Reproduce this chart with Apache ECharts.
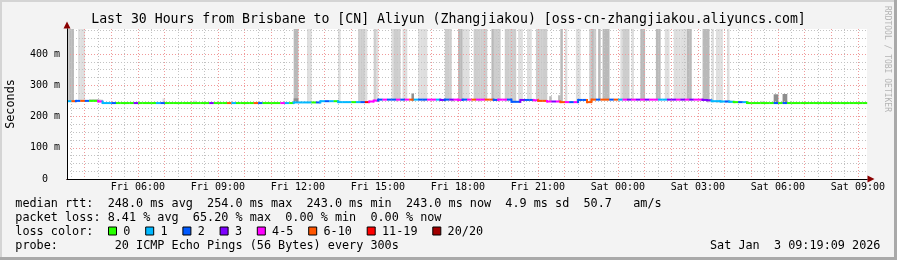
<!DOCTYPE html>
<html><head><meta charset="utf-8">
<script src="https://cdn.jsdelivr.net/npm/echarts@6/dist/echarts.min.js"></script>
<style>html,body{margin:0;padding:0;background:#f3f3f3}#c{width:897px;height:260px}</style>
</head><body><div id="c"></div>
<script>
// ---------------- data ----------------
const TITLE = 'Last 30 Hours from Brisbane to [CN] Aliyun (Zhangjiakou) [oss-cn-zhangjiakou.aliyuncs.com]';
const X_START_H = 3 + 20.5 / 60;          // Fri 03:20:30 (hours since Fri 00:00)
const X_END_H = X_START_H + 30;           // Sat 09:20:30
const STEP_H = 10 / 60;                   // median samples every 10 min
const SMOKE_STEP_H = 5 / 60;              // smoke columns every 5 min
const Y_MAX_MS = 480;

const xTickHours = [6, 9, 12, 15, 18, 21, 24, 27, 30, 33];
const xTickLabels = ['Fri 06:00', 'Fri 09:00', 'Fri 12:00', 'Fri 15:00', 'Fri 18:00',
  'Fri 21:00', 'Sat 00:00', 'Sat 03:00', 'Sat 06:00', 'Sat 09:00'];
const yTickValues = [0, 100, 200, 300, 400];
const yTickLabels = ['0', '100 m', '200 m', '300 m', '400 m'];

// median RTT (ms), one value per 10-minute step
const medianMs = [
  249,249,250,250,250,250,250,248,243,243,
  243,243,243,243,243,243,243,243,243,243,
  243,243,243,243,243,243,243,243,243,243,
  243,243,243,243,243,243,243,243,243,243,
  243,243,243,243,243,243,243,243,243,243,
  243,245,245,245,245,245,245,249,249,249,
  249,246,246,246,246,246,246,246,248,251,
  254,254,254,254,254,254,254,254,254,254,
  254,254,254,254,253,254,254,254,253,254,
  254,254,254,254,254,254,253,254,254,254,
  247,247,253,253,253,252,250,250,248,248,
  248,246,246,246,246,253,253,246,254,254,
  254,254,254,254,254,254,254,254,254,254,
  254,254,254,254,254,254,254,254,254,254,
  254,254,254,253,252,249,249,248,248,247,
  246,246,246,243,243,243,243,243,243,243,
  243,243,243,243,243,243,243,243,243,243,
  243,243,243,243,243,243,243,243,243,243
];
// lost pings (out of 20) per 10-minute step
const lossCount = [
  1,8,2,8,2,0,0,4,1,1,
  2,0,0,0,0,3,0,0,0,0,
  1,2,0,0,0,0,0,0,0,0,
  0,0,3,0,0,0,8,1,0,0,
  0,0,8,2,0,0,0,0,4,1,
  0,1,1,1,1,0,2,1,2,1,
  0,1,1,1,0,1,2,13,4,4,
  2,4,2,2,4,2,4,8,1,2,
  2,4,4,1,3,2,3,4,4,2,
  4,8,4,4,8,8,2,4,4,2,
  2,2,3,2,2,4,8,8,4,3,
  4,8,4,2,4,2,2,8,8,2,
  8,8,2,8,1,4,3,4,3,4,
  3,4,4,1,1,3,3,4,3,4,
  3,4,4,3,3,1,1,1,2,1,
  0,2,1,0,0,0,0,0,0,2,
  0,2,0,0,0,0,0,0,0,0,
  0,0,0,0,0,0,0,0,0,0
];
// smoke columns reaching above the chart top: [5-min step index, shade level]
const smokeTall = [
  [0,2],[1,3],[2,3],[5,1],[6,1],[7,1],
  [102,3],[103,3],[108,1],[109,1],
  [122,1],[131,2],[132,2],[133,2],[134,1],[138,2],[139,1],
  [146,1],[147,2],[148,2],[149,2],[151,1],[152,1],
  [158,1],[159,1],[160,1],[161,1],
  [170,2],[171,2],[172,2],[176,3],[177,3],[178,1],[179,1],[180,1],
  [183,2],[184,2],[185,2],[186,2],[187,2],[188,2],
  [191,3],[192,2],[193,2],[194,2],
  [197,2],[198,2],[199,2],[200,2],[201,2],
  [203,1],[204,1],[207,1],[208,1],
  [211,2],[212,2],[213,2],[214,2],[215,2],
  [222,3],[224,1],[229,1],[230,1],
  [235,2],[236,3],[237,2],[239,3],[241,3],[242,3],[243,3],
  [249,1],[250,2],[251,2],[252,2],[254,1],
  [258,3],[259,3],[265,3],[266,3],[269,1],[270,1],
  [273,1],[274,1],[275,1],[276,1],[277,1],[278,1],[279,3],[280,3],
  [286,3],[287,3],[288,3],[290,1],[292,1],[293,1],[294,1],[297,1]
];
// short smoke patches: [5-min step index, low ms, high ms, shade level]
const smokeShort = [
  [10,250,256,2],[11,250,256,2],[12,249,256,2],[13,249,256,2],[14,249,255,2],[15,248,254,2],
  [43,245,258,1],[57,244,251,1],
  [102,246,258,4],[103,246,258,4],
  [148,248,253,2],[155,250,274,4],[160,248,253,2],[173,248,253,2],[185,248,253,2],[197,248,253,2],
  [217,250,265,3],[221,250,268,3],
  [288,245,254,2],[290,245,253,2],[292,244,252,2],[294,244,252,2],[296,244,251,2],
  [298,243,251,2],[300,243,250,2],[302,243,250,2],
  [312,243,250,1],
  [318,243,271,4],[319,243,271,4],[322,243,272,4],[323,243,272,4]
];

const lossLabels = ['0', '1', '2', '3', '4-5', '6-10', '11-19', '20/20'];
const lossColors = ['#26ff00', '#00b8ff', '#0059ff', '#7e00ff', '#ff00ff', '#ff5500', '#ff0000', '#a10000'];
const rttStats = [248.0, 254.0, 243.0, 243.0];   // avg, max, min, now (ms)
const rttSd = 4.9;
const rttAmS = 50.7;
const lossStats = [8.41, 65.20, 0.00, 0.00];     // avg, max, min, now (%)
const probeText = '20 ICMP Echo Pings (56 Bytes) every 300s';
const dateText = 'Sat Jan  3 09:19:09 2026';

// ---------------- styling ----------------
const MONO = '"DejaVu Sans Mono", monospace';
const smokeShades = [null, '#dedede', '#cdcdcd', '#b9b9b9', '#8e8e8e'];
const CHAR_W = 7.1;

function lossColor(n) {
  if (n <= 0) return lossColors[0];
  if (n === 1) return lossColors[1];
  if (n === 2) return lossColors[2];
  if (n === 3) return lossColors[3];
  if (n <= 5) return lossColors[4];
  if (n <= 10) return lossColors[5];
  if (n <= 19) return lossColors[6];
  return lossColors[7];
}

const medianData = medianMs.map((v, i) =>
  [X_START_H + i * STEP_H, X_START_H + (i + 1) * STEP_H, v, lossCount[i]]);
const smokeData = smokeTall.map(([j, l]) =>
  [X_START_H + j * SMOKE_STEP_H, X_START_H + (j + 1) * SMOKE_STEP_H,
   medianMs[Math.floor(j / 2)] - 2, Y_MAX_MS, l])
  .concat(smokeShort.map(([j, lo, hi, l]) =>
  [X_START_H + j * SMOKE_STEP_H, X_START_H + (j + 1) * SMOKE_STEP_H, lo, hi, l]));

function renderSmoke(params, api) {
  const t0 = api.value(0), t1 = api.value(1);
  const lo = api.value(2), hi = Math.min(api.value(3), Y_MAX_MS), lvl = api.value(4);
  const a = api.coord([t0, hi]), b = api.coord([t1, lo]);
  return { type: 'rect', shape: { x: a[0], y: a[1], width: b[0] - a[0] + 0.3, height: b[1] - a[1] },
           style: { fill: smokeShades[lvl] } };
}
function renderMedian(params, api) {
  const i = params.dataIndex;
  const t0 = api.value(0), t1 = api.value(1), v = api.value(2), loss = api.value(3);
  const a = api.coord([t0, v]), b = api.coord([t1, v]);
  const fill = lossColor(loss);
  const kids = [{ type: 'rect', shape: { x: a[0], y: a[1] - 1, width: b[0] - a[0] + 0.2, height: 2 }, style: { fill } }];
  if (i > 0 && medianMs[i - 1] !== v) {
    const p = api.coord([t0, medianMs[i - 1]]);
    kids.push({ type: 'rect', shape: { x: a[0] - 1, y: Math.min(p[1], a[1]) - 1, width: 2, height: Math.abs(p[1] - a[1]) + 2 }, style: { fill } });
  }
  return { type: 'group', children: kids };
}

// ---------------- legend graphics ----------------
const line1 = 'median rtt:  ' + rttStats[0].toFixed(1) + ' ms avg  ' + rttStats[1].toFixed(1) + ' ms max  ' +
  rttStats[2].toFixed(1) + ' ms min  ' + rttStats[3].toFixed(1) + ' ms now  ' + rttSd.toFixed(1) + ' ms sd  ' +
  rttAmS.toFixed(1) + '   am/s';
const line2 = 'packet loss: ' + lossStats[0].toFixed(2) + ' % avg  ' + lossStats[1].toFixed(2) + ' % max  ' +
  lossStats[2].toFixed(2) + ' % min  ' + lossStats[3].toFixed(2) + ' % now';
const legendFont = { fontFamily: MONO, fontSize: 11.8, fill: '#000', verticalAlign: 'middle', align: 'left' };
const graphics = [
  { type: 'rect', shape: { x: 0, y: 0, width: 897, height: 2 }, style: { fill: '#d4d4d4' }, z: 10 },
  { type: 'rect', shape: { x: 0, y: 0, width: 2, height: 260 }, style: { fill: '#d4d4d4' }, z: 10 },
  { type: 'rect', shape: { x: 894, y: 0, width: 3, height: 260 }, style: { fill: '#a9a9a9' }, z: 10 },
  { type: 'rect', shape: { x: 0, y: 257, width: 897, height: 3 }, style: { fill: '#a9a9a9' }, z: 10 },
  { type: 'text', x: 887, y: 6, rotation: -Math.PI / 2,
    style: { text: 'RRDTOOL / TOBI OETIKER', fontFamily: MONO, fontSize: 8, fill: '#b4b4b4', align: 'left', verticalAlign: 'middle' } },
  { type: 'text', x: 15.3, y: 203.5, style: Object.assign({ text: line1 }, legendFont) },
  { type: 'text', x: 15.3, y: 217.5, style: Object.assign({ text: line2 }, legendFont) },
  { type: 'text', x: 15.3, y: 231.5, style: Object.assign({ text: 'loss color:' }, legendFont) },
  { type: 'text', x: 15.3, y: 245.5, style: Object.assign({ text: 'probe:        ' + probeText }, legendFont) },
  { type: 'text', x: 710, y: 245.5, style: Object.assign({ text: dateText }, legendFont) }
];
let sx = 108.5;
lossLabels.forEach((lab, k) => {
  graphics.push({ type: 'rect', shape: { x: sx, y: 227, width: 8, height: 8 },
    style: { fill: lossColors[k], stroke: '#000', lineWidth: 1 } });
  graphics.push({ type: 'text', x: sx + 14.8, y: 231.5, style: Object.assign({ text: lab }, legendFont) });
  sx += 14.8 + lab.length * CHAR_W + 15.3;
});

// ---------------- chart ----------------
const gridCommon = { type: 'value', min: X_START_H, max: X_END_H, position: 'bottom' };
const yCommon = { type: 'value', min: 0, max: Y_MAX_MS, position: 'left' };
const noAxis = { axisLine: { show: false }, axisTick: { show: false }, axisLabel: { show: false } };
const option = {
  animation: false,
  backgroundColor: '#f3f3f3',
  title: { text: TITLE, left: 'center', top: 12.6, padding: 0,
    textStyle: { fontFamily: MONO, fontSize: 13.2, fontWeight: 'normal', color: '#000' } },
  grid: { left: 67, top: 29, width: 800, height: 150, show: true, backgroundColor: '#ffffff',
    borderWidth: 0, containLabel: false, outerBoundsMode: 'none' },
  xAxis: [
    Object.assign({}, gridCommon, noAxis, { minInterval: 0.5, maxInterval: 0.5, z: 2,
      splitLine: { show: true, showMinLine: false, showMaxLine: false, lineStyle: { color: '#c2c2c2', width: 1, type: [1, 2] } } }),
    Object.assign({}, gridCommon, { minInterval: 1, maxInterval: 1, z: 2,
      axisLine: { show: true, onZero: false, symbol: ['none', 'triangle'], symbolSize: [7, 7], symbolOffset: [0, 4],
        lineStyle: { color: '#8a0000', width: 1 } },
      axisTick: { show: false }, axisLabel: { show: false },
      splitLine: { show: true, showMinLine: false, showMaxLine: false, lineStyle: { color: '#f09a9a', width: 1, type: [1, 2] } } }),
    Object.assign({}, gridCommon, { minInterval: 3, maxInterval: 3, z: 4,
      axisLine: { show: true, onZero: false, lineStyle: { color: '#000', width: 1 } },
      axisTick: { show: false },
      axisLabel: { show: true, margin: 3, showMinLabel: false, showMaxLabel: false,
        fontFamily: MONO, fontSize: 10, color: '#000',
        formatter: v => { const k = xTickHours.findIndex(h => Math.abs(h - v) < 1e-6); return k >= 0 ? xTickLabels[k] : ''; } },
      splitLine: { show: false } })
  ],
  yAxis: [
    Object.assign({}, yCommon, { interval: 25, z: 2,
      axisLine: { show: true, onZero: false, symbol: ['none', 'triangle'], symbolSize: [7, 7], symbolOffset: [0, 4],
        lineStyle: { color: '#8a0000', width: 1 } },
      axisTick: { show: false }, axisLabel: { show: false },
      splitLine: { show: true, showMinLine: false, showMaxLine: false, lineStyle: { color: '#c2c2c2', width: 1, type: [1, 2] } } }),
    Object.assign({}, yCommon, noAxis, { interval: 100, z: 2,
      splitLine: { show: true, showMinLine: false, showMaxLine: false, lineStyle: { color: '#f09a9a', width: 1, type: [1, 2] } } }),
    Object.assign({}, yCommon, { interval: 100, z: 4,
      name: 'Seconds', nameLocation: 'middle', nameRotate: 90, nameGap: 50,
      nameTextStyle: { fontFamily: MONO, fontSize: 11.8, color: '#000' },
      axisLine: { show: true, onZero: false, lineStyle: { color: '#000', width: 1 } },
      axisTick: { show: false },
      axisLabel: { show: true, margin: 7, showMaxLabel: false, fontFamily: MONO, fontSize: 10, color: '#000',
        formatter: v => { const k = yTickValues.indexOf(v); return k < 0 ? '' : (v === 0 ? yTickLabels[k] + '  ' : yTickLabels[k]); } },
      splitLine: { show: false } })
  ],
  series: [
    { type: 'custom', name: 'smoke', xAxisIndex: 2, yAxisIndex: 2, z: 1, silent: true,
      renderItem: renderSmoke, data: smokeData, encode: { x: [0, 1], y: [2, 3] } },
    { type: 'custom', name: 'median', xAxisIndex: 2, yAxisIndex: 2, z: 3, silent: true,
      renderItem: renderMedian, data: medianData, encode: { x: [0, 1], y: 2 } }
  ],
  graphic: graphics
};
const chart = echarts.init(document.getElementById('c'), null, { renderer: 'canvas' });
chart.setOption(option);
</script></body></html>
